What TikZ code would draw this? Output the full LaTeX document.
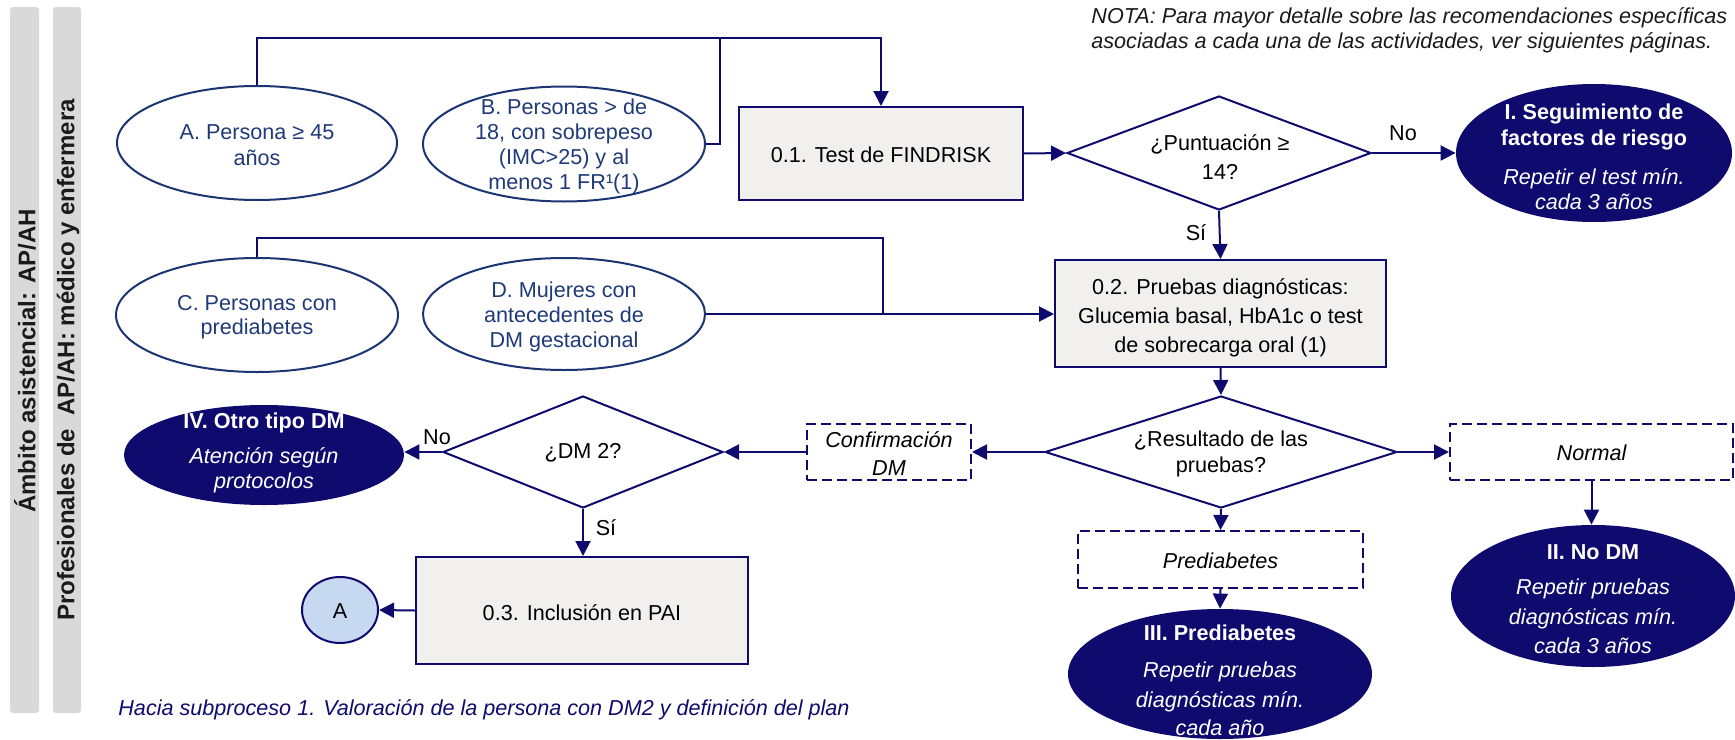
\documentclass[tikz,border=0pt]{standalone}
\usepackage{fontspec}
\setmainfont{Liberation Sans}
\usetikzlibrary{shapes.geometric,arrows.meta}

\definecolor{navy}{HTML}{0F0B6E}
\definecolor{ellblue}{HTML}{1B3572}
\definecolor{elltext}{HTML}{1F3A78}
\definecolor{boxgray}{HTML}{F1F0ED}
\definecolor{circblue}{HTML}{C6D9F0}
\definecolor{bargray}{HTML}{D9D9D9}
\definecolor{bartext}{HTML}{1A1A1A}

\tikzset{
  every node/.style={font=\fontsize{10.8}{13}\selectfont, inner sep=0pt, align=center},
  lite/.style={ellipse, draw=ellblue, line width=1pt},
  litetext/.style={text=elltext},
  dark/.style={ellipse, fill=navy},
  darktext/.style={text=white},
  task/.style={rectangle, draw=navy, fill=boxgray, line width=1pt},
  decision/.style={diamond, draw=navy, line width=1pt},
  outcome/.style={rectangle, draw=navy, line width=1pt, dash pattern=on 5pt off 2.5pt},
  conn/.style={draw=navy, line width=1pt},
  arr/.style={conn, -{Triangle[length=7.5pt,width=7.5pt]}},
  lbl/.style={text=black},
  bar/.style={fill=bargray, rounded corners=1.5pt},
  bartitle/.style={font=\fontsize{12}{14}\selectfont\bfseries, text=bartext, rotate=90}
}

\begin{document}
\begin{tikzpicture}[x=0.5pt, y=-0.5pt]
\useasboundingbox (0,0) rectangle (1735,739);

% side bands
\path[bar] (10,7) rectangle (39,713);
\path[bar] (53,7) rectangle (81,713);
\node[bartitle] (band1) at (25,361) {Ámbito asistencial: AP/AH};
\node[bartitle] (band2) at (68,360) {Profesionales de\ \ AP/AH: médico y enfermera};

% note
\node[anchor=west, align=left, text=bartext, font=\fontsize{10.8}{12.5}\selectfont\itshape] (nota) at (1091,30)
  {NOTA: Para mayor detalle sobre las recomendaciones específicas\\asociadas a cada una de las actividades, ver siguientes páginas.};

% entry populations
\node[lite, minimum width=140pt, minimum height=57pt] (ellA) at (257,143) {};
\node[litetext] at (257,145) {A. Persona ≥ 45\\años};
\node[lite, minimum width=141pt, minimum height=57.5pt] (ellB) at (564,144) {};
\node[litetext, font=\fontsize{10.8}{12.5}\selectfont] at (564,146) {B. Personas > de\\18, con sobrepeso\\(IMC>25) y al\\menos 1 FR¹(1)};
\node[lite, minimum width=141pt, minimum height=57pt] (ellC) at (257,315) {};
\node[litetext, font=\fontsize{10.8}{12}\selectfont] at (257,317) {C. Personas con\\prediabetes};
\node[lite, minimum width=141pt, minimum height=56pt] (ellD) at (564,314) {};
\node[litetext, font=\fontsize{10.8}{12.5}\selectfont] at (564,317) {D. Mujeres con\\antecedentes de\\DM gestacional};

% screening
\node[task, minimum width=142pt, minimum height=46.5pt] (box01) at (881,153.5) {};
\node[lbl] at (881,155) {0.1. Test de FINDRISK};
\node[decision, aspect=2.67, minimum width=152pt, minimum height=57pt] (dia1) at (1219,153) {};
\node[lbl, font=\fontsize{10.8}{14.5}\selectfont] at (1220,157.5) {¿Puntuación ≥\\14?};
\node[dark, minimum width=138pt, minimum height=69pt] (ellI) at (1594,153) {};
\node[darktext] at (1594,157) {\bfseries I. Seguimiento de\\\bfseries factores de riesgo\\[6.5pt]\itshape Repetir el test mín.\\[-0.5pt]\itshape cada 3 años};

% diagnosis
\node[task, minimum width=165.5pt, minimum height=53.5pt] (box02) at (1220.5,313.5) {};
\node[lbl, font=\fontsize{10.8}{14.5}\selectfont] at (1220.5,317.5) {0.2. Pruebas diagnósticas:\\Glucemia basal, HbA1c o test\\de sobrecarga oral (1)};
\node[decision, aspect=3.14, minimum width=176pt, minimum height=56pt] (dia2) at (1221,452) {};
\node[lbl] at (1221,453.5) {¿Resultado de las\\pruebas?};

\node[outcome, minimum width=82pt, minimum height=28pt] (conf) at (889,452) {};
\node[lbl, font=\fontsize{10.8}{14}\selectfont\itshape] at (889,454) {Confirmación\\DM};
\node[outcome, minimum width=141.5pt, minimum height=28pt] (normal) at (1591.5,452) {};
\node[lbl, font=\fontsize{10.8}{13}\selectfont\itshape] at (1591.5,453) {Normal};
\node[outcome, minimum width=142.5pt, minimum height=28.5pt] (prediab) at (1220.5,559.5) {};
\node[lbl, font=\fontsize{10.8}{13}\selectfont\itshape] at (1220.5,561) {Prediabetes};

\node[dark, minimum width=142pt, minimum height=71pt] (ellII) at (1593,596) {};
\node[darktext] at (1593,599) {\bfseries II. No DM\\[4.5pt]\itshape Repetir pruebas\\[2pt]\itshape diagnósticas mín.\\[1.5pt]\itshape cada 3 años};
\node[dark, minimum width=152pt, minimum height=65pt] (ellIII) at (1220,674) {};
\node[darktext] at (1220,680.5) {\bfseries III. Prediabetes\\[5.5pt]\itshape Repetir pruebas\\[2pt]\itshape diagnósticas mín.\\[1pt]\itshape cada año};

% type of diabetes
\node[decision, aspect=2.5, minimum width=140pt, minimum height=56pt] (dia3) at (583,452) {};
\node[lbl] at (583,453) {¿DM 2?};
\node[dark, minimum width=140pt, minimum height=50pt] (ellIV) at (264,455) {};
\node[darktext] at (264,453) {\bfseries IV. Otro tipo DM\\[4.5pt]\itshape Atención según\\[-0.5pt]\itshape protocolos};
\node[task, minimum width=166pt, minimum height=53.5pt] (box03) at (582,610.5) {};
\node[lbl] at (582,613) {0.3. Inclusión en PAI};
\node[ellipse, draw=navy, fill=circblue, line width=1pt, minimum width=38pt, minimum height=33pt] (circA) at (340,610) {};
\node[lbl] at (340,611) {A};

\node[anchor=west, text=navy, font=\fontsize{10.8}{13}\selectfont\itshape] (foot) at (118,710)
  {Hacia subproceso 1. Valoración de la persona con DM2 y definición del plan};

% connectors
\coordinate (jA) at (881,38);
\coordinate (jB) at (720,38);
\coordinate (jC) at (883,238);
\draw[arr] (ellA.north) |- (jA) -- (box01.north);
\draw[conn] (ellB.east) -| (jB);
\draw[conn] (ellC.north) |- (jC) -- (jC |- ellD.east);
\draw[arr] (ellD.east) -- (box02.west |- ellD.east);

\draw[arr] (box01.east) -- (dia1.west);
\draw[arr] (dia1.east) -- (ellI.west);
\node[lbl] (no1) at (1403,133) {No};
\draw[arr] (dia1.south) -- (box02.north);
\node[lbl] (si1) at (1196,233) {Sí};

\draw[arr] (box02.south) -- (dia2.north);
\draw[arr] (dia2.west) -- (conf.east);
\draw[arr] (conf.west) -- (dia3.east);
\draw[arr] (dia2.east) -- (normal.west);
\draw[arr] (dia2.south) -- (prediab.north);
\draw[arr] (prediab.south) -- (ellIII.north);
\draw[arr] (normal.south) -- (ellII.north -| normal.south);

\draw[arr] (dia3.west) -- (ellIV.east |- dia3.west);
\node[lbl] (no2) at (437,437) {No};
\draw[arr] (dia3.south) -- (box03.north -| dia3.south);
\node[lbl] (si2) at (606,528) {Sí};
\draw[arr] (box03.west) -- (circA.east);
\end{tikzpicture}
\end{document}
